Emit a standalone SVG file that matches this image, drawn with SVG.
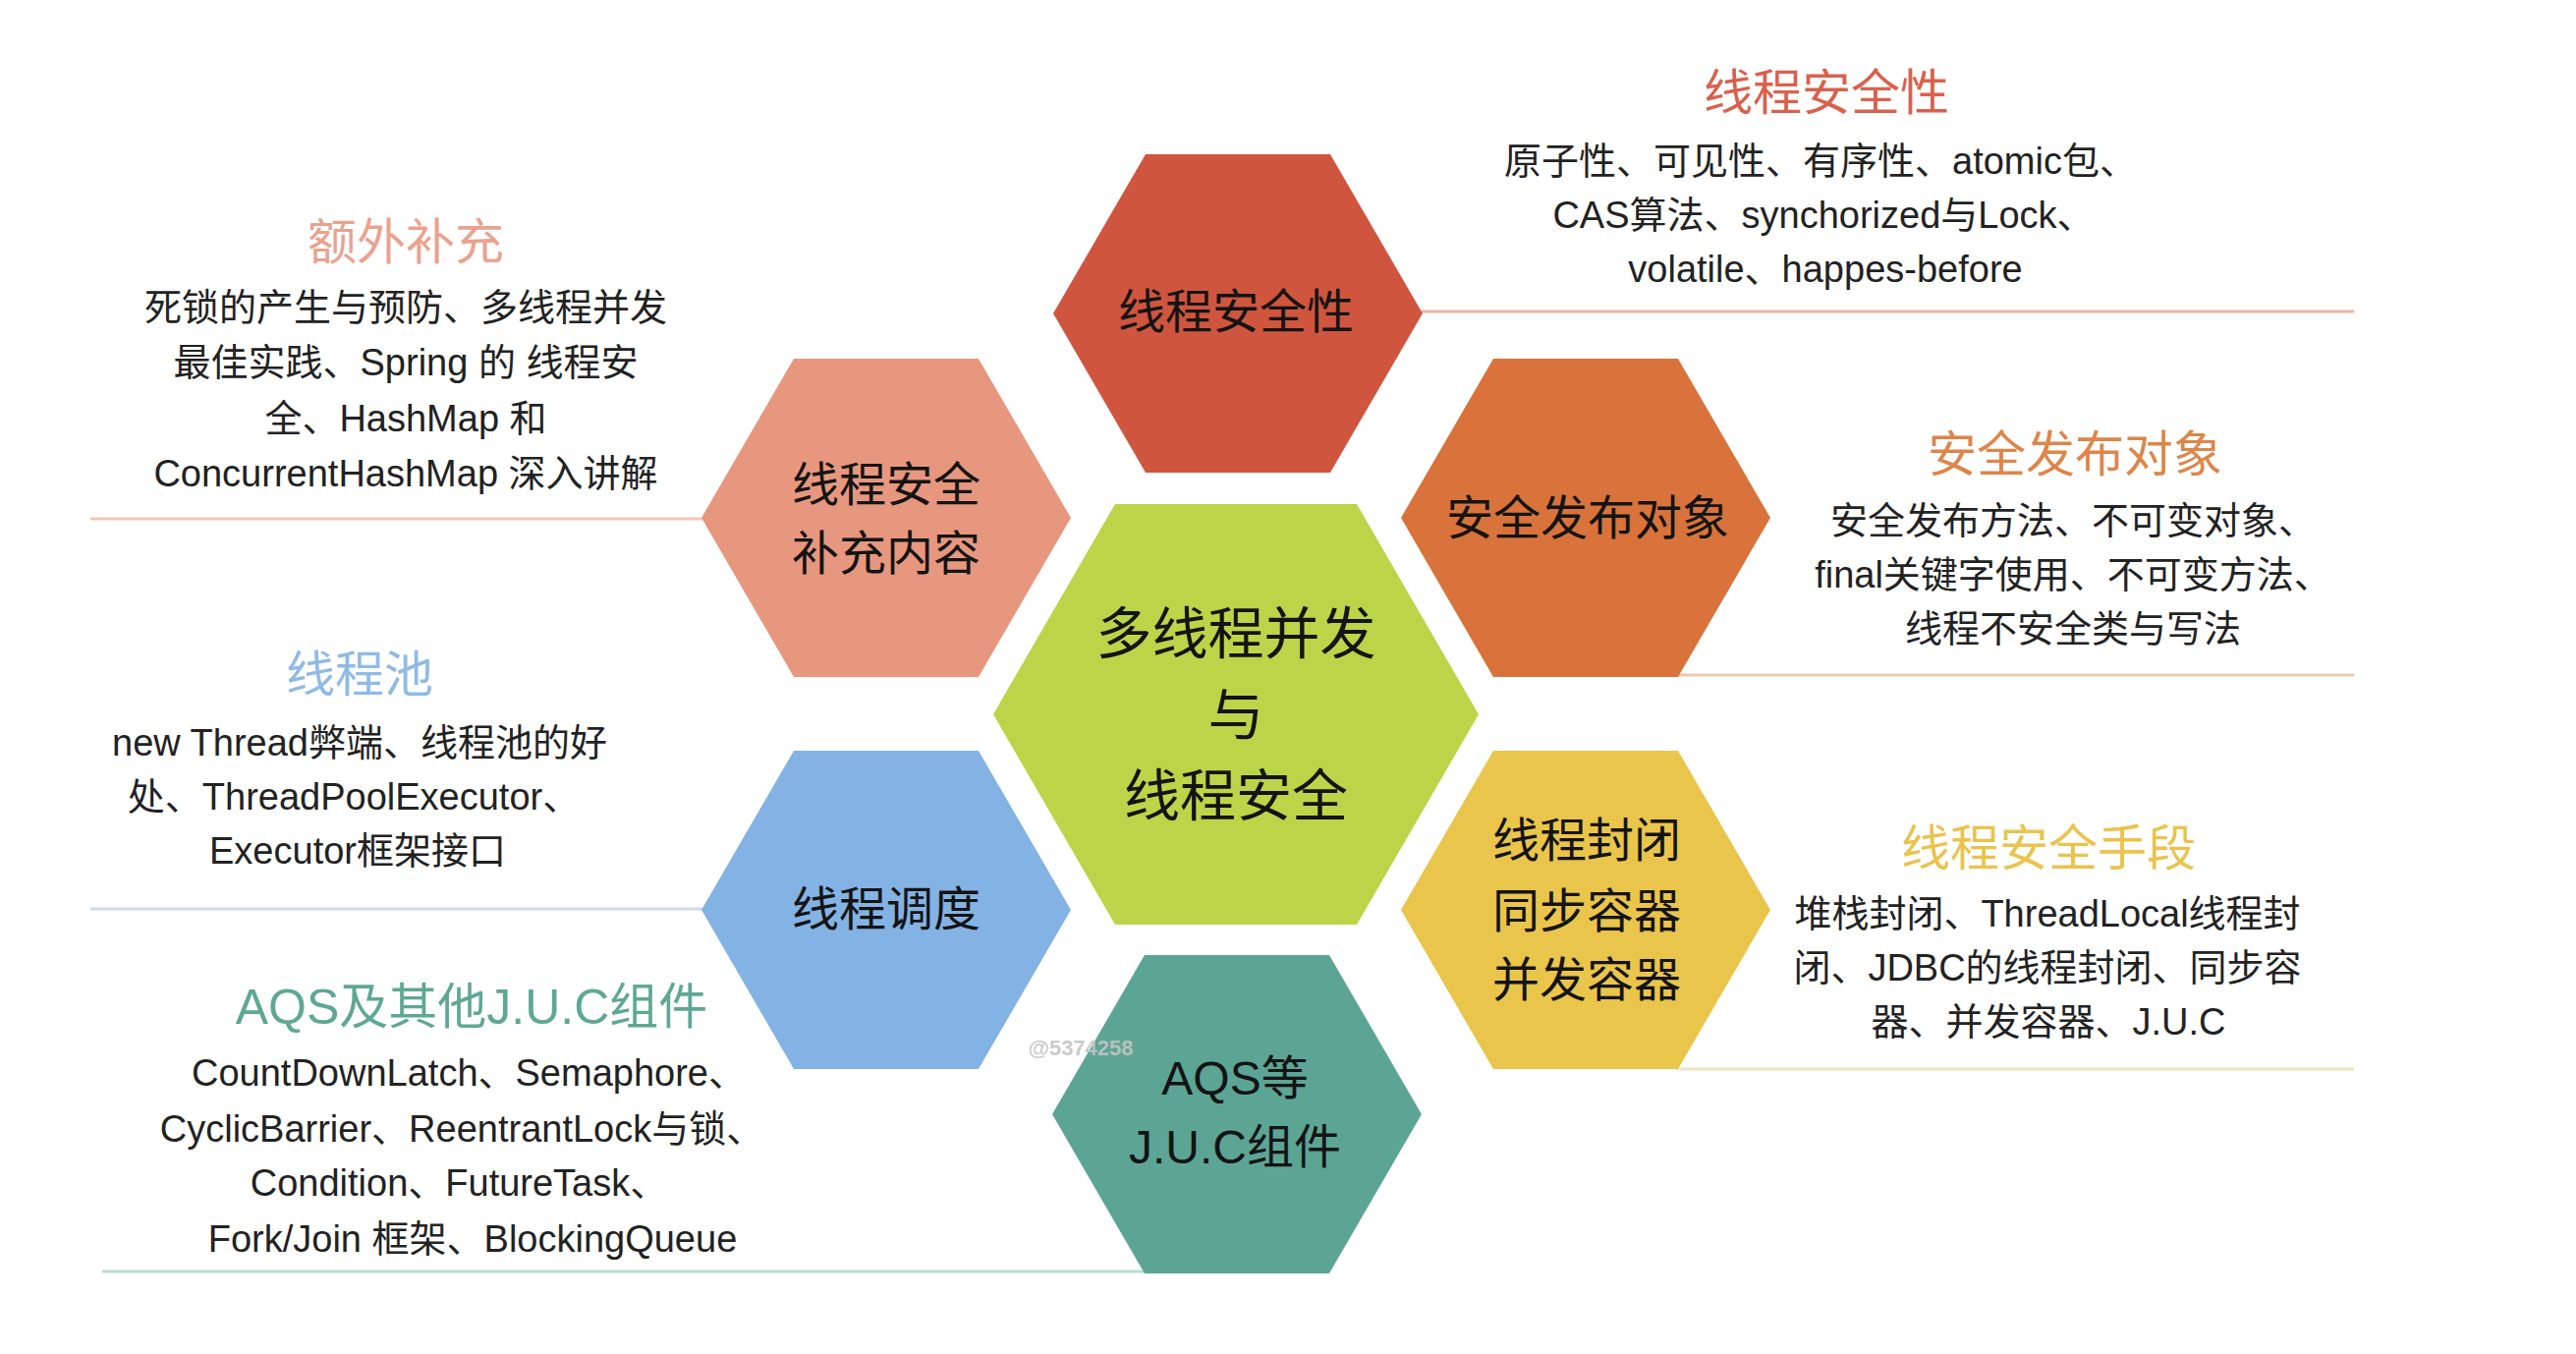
<svg xmlns="http://www.w3.org/2000/svg" width="2622" height="1378" viewBox="0 0 2622 1378">
<style>
text{font-family:"Liberation Sans","Noto Sans CJK SC",sans-serif;text-anchor:middle;dominant-baseline:central}
.hl{font-size:48px;fill:#141414}
.ctr{font-size:57px;fill:#141414}
.ttl{font-size:50px}
.body{font-size:38px;fill:#222}
.ln{stroke-width:3;fill:none}
</style>
<defs>
<polygon id="hex" points="-188,0 -94,-162 94,-162 188,0 94,162 -94,162"/>
<polygon id="hexL" points="-247,0 -123,-214 123,-214 247,0 123,214 -123,214"/>
</defs>
<rect width="2622" height="1378" fill="#ffffff"/>
<g id="connectors">
<line class="ln" x1="1447" y1="317" x2="2396" y2="317" stroke="#ebb1a5"/>
<line class="ln" x1="1706" y1="687" x2="2396" y2="687" stroke="#eec7ad"/>
<line class="ln" x1="1706" y1="1088" x2="2396" y2="1088" stroke="#efe2c0"/>
<line class="ln" x1="92" y1="528" x2="716" y2="528" stroke="#f1c5b7"/>
<line class="ln" x1="92" y1="925" x2="716" y2="925" stroke="#cddcec"/>
<line class="ln" x1="104" y1="1294" x2="1165" y2="1294" stroke="#b7ddd3"/>
</g>
<g id="node-center">
<use href="#hexL" x="1258" y="727" fill="#bdd448"/>
<text class="ctr" x="1258" y="645">多线程并发</text>
<text class="ctr" x="1258" y="728">与</text>
<text class="ctr" x="1258" y="810">线程安全</text>
</g>
<g id="node-safety">
<use href="#hex" x="1260" y="319" fill="#d0553e"/>
<text class="hl" x="1258" y="317">线程安全性</text>
</g>
<g id="node-extra">
<use href="#hex" x="902" y="527" fill="#e8977f"/>
<text class="hl" x="902" y="493">线程安全</text>
<text class="hl" x="902" y="563">补充内容</text>
</g>
<g id="node-publish">
<use href="#hex" x="1614" y="527" fill="#d9733b"/>
<text class="hl" x="1616" y="527">安全发布对象</text>
</g>
<g id="node-schedule">
<use href="#hex" x="902" y="926" fill="#83b3e4"/>
<text class="hl" x="902" y="925">线程调度</text>
</g>
<g id="node-confine">
<use href="#hex" x="1614" y="926" fill="#eac54c"/>
<text class="hl" x="1615" y="855">线程封闭</text>
<text class="hl" x="1615" y="927">同步容器</text>
<text class="hl" x="1615" y="997">并发容器</text>
</g>
<g id="node-aqs">
<use href="#hex" x="1259" y="1134" fill="#5ca595"/>
<text class="hl" x="1257" y="1097">AQS等</text>
<text class="hl" x="1257" y="1167">J.U.C组件</text>
</g>
<g id="desc-safety">
<text class="ttl" x="1859" y="95" fill="#d9614c">线程安全性</text>
<text class="body" x="1853" y="164">原子性、可见性、有序性、atomic包、</text>
<text class="body" x="1856" y="219">CAS算法、synchorized与Lock、</text>
<text class="body" x="1858" y="274">volatile、happes-before</text>
</g>
<g id="desc-publish">
<text class="ttl" x="2112" y="463" fill="#de8549">安全发布对象</text>
<text class="body" x="2110" y="530">安全发布方法、不可变对象、</text>
<text class="body" x="2110" y="585">final关键字使用、不可变方法、</text>
<text class="body" x="2110" y="640">线程不安全类与写法</text>
</g>
<g id="desc-confine">
<text class="ttl" x="2085" y="864" fill="#eac34c">线程安全手段</text>
<text class="body" x="2084" y="930">堆栈封闭、ThreadLocal线程封</text>
<text class="body" x="2084" y="985">闭、JDBC的线程封闭、同步容</text>
<text class="body" x="2085" y="1040">器、并发容器、J.U.C</text>
</g>
<g id="desc-extra">
<text class="ttl" x="413" y="247" fill="#eaa28e">额外补充</text>
<text class="body" x="413" y="313">死锁的产生与预防、多线程并发</text>
<text class="body" x="413" y="369">最佳实践、Spring 的 线程安</text>
<text class="body" x="413" y="426">全、HashMap 和</text>
<text class="body" x="413" y="482">ConcurrentHashMap 深入讲解</text>
</g>
<g id="desc-pool">
<text class="ttl" x="366" y="687" fill="#8fbae6">线程池</text>
<text class="body" x="366" y="756">new Thread弊端、线程池的好</text>
<text class="body" x="360" y="811">处、ThreadPoolExecutor、</text>
<text class="body" x="364" y="866">Executor框架接口</text>
</g>
<g id="desc-aqs">
<text class="ttl" x="480" y="1025" fill="#5fa795">AQS及其他J.U.C组件</text>
<text class="body" x="477" y="1092">CountDownLatch、Semaphore、</text>
<text class="body" x="470" y="1149">CyclicBarrier、ReentrantLock与锁、</text>
<text class="body" x="467" y="1204">Condition、FutureTask、</text>
<text class="body" x="481" y="1261">Fork/Join 框架、BlockingQueue</text>
</g>
<text x="1100" y="1066" font-size="22" font-weight="bold" fill="#c4c4c4" fill-opacity="0.9">@5374258</text>
</svg>
